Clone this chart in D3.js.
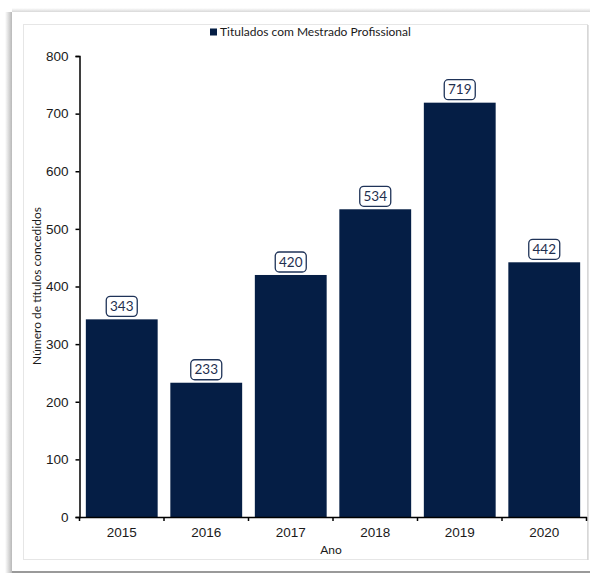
<!DOCTYPE html>
<html><head><meta charset="utf-8">
<script src="https://cdn.jsdelivr.net/npm/d3@7"></script>
<style>body{margin:0;background:#fff;}svg{display:block;font-family:Lato,sans-serif;}</style>
</head><body>
<script>
const categories = ["2015","2016","2017","2018","2019","2020"];
const values = [343,233,420,534,719,442];
const seriesName = "Titulados com Mestrado Profissional";
const yTicks = [0,100,200,300,400,500,600,700,800];
const yTitle = "Número de títulos concedidos";
const xTitle = "Ano";

const W=590,H=574;
const svg=d3.select("body").append("svg").attr("width",W).attr("height",H);
const defs=svg.append("defs");
const lg=defs.append("linearGradient").attr("id","shL").attr("x1",0).attr("x2",1);
lg.append("stop").attr("offset",0).attr("stop-color","#fff");
lg.append("stop").attr("offset",1).attr("stop-color","#b8b8b8");
const tg=defs.append("linearGradient").attr("id","shT").attr("x1",0).attr("x2",0).attr("y1",0).attr("y2",1);
tg.append("stop").attr("offset",0).attr("stop-color","#fff");
tg.append("stop").attr("offset",1).attr("stop-color","#d8d8d8");
// card shadow
svg.append("rect").attr("x",5).attr("y",12).attr("width",7).attr("height",561).attr("fill","url(#shL)");
svg.append("rect").attr("x",12).attr("y",8).attr("width",578).attr("height",4).attr("fill","url(#shT)");
svg.append("rect").attr("x",12).attr("y",12).attr("width",578).attr("height",560).attr("fill","#fff");
svg.append("line").attr("x1",12).attr("x2",590).attr("y1",572).attr("y2",572).attr("stroke","#9a9a9a").attr("stroke-width",2);
// inner border
svg.append("rect").attr("x",23.5).attr("y",24.5).attr("width",564).attr("height",535).attr("fill","none").attr("stroke","#e6e6e6");
svg.append("line").attr("x1",588).attr("x2",588).attr("y1",25).attr("y2",560).attr("stroke","#c8c8c8");

const m={l:79.5,r:586.5,t:56,b:517};
const x=d3.scaleBand().domain(categories).range([m.l,m.r]).paddingInner(0.15).paddingOuter(0.075);
const y=d3.scaleLinear().domain([0,800]).range([m.b,m.t]);
const navy="#051e45";

svg.append("g").selectAll("rect").data(values).join("rect")
 .attr("x",(d,i)=>x(categories[i])).attr("width",x.bandwidth())
 .attr("y",d=>y(d)).attr("height",d=>y(0)-y(d)).attr("fill",navy);

const ya=svg.append("g").attr("transform",`translate(${m.l},0)`)
 .call(d3.axisLeft(y).tickValues(yTicks).tickSize(4).tickPadding(7));
ya.select(".domain").attr("stroke","#000").attr("stroke-width",1.5);
ya.selectAll(".tick line").attr("stroke","#000").attr("stroke-width",1.5);
ya.selectAll("text").attr("font-size",13.5).attr("fill","#1a1a1a");

const xa=svg.append("g").attr("transform",`translate(0,${m.b})`)
 .call(d3.axisBottom(x).tickSize(0).tickPadding(10));
xa.select(".domain").attr("stroke","#000").attr("stroke-width",1.5);
xa.selectAll("text").attr("font-size",13.5).attr("fill","#1a1a1a");
// boundary ticks
const step=x.step();
const bounds=d3.range(categories.length+1).map(i=>m.l+i*step);
svg.append("g").selectAll("line").data(bounds).join("line")
 .attr("x1",d=>d).attr("x2",d=>d).attr("y1",m.b).attr("y2",m.b+4).attr("stroke","#000").attr("stroke-width",1.5);

// labels
const lab=svg.append("g").selectAll("g").data(values).join("g")
 .attr("transform",(d,i)=>`translate(${x(categories[i])+x.bandwidth()/2},${y(d)-13})`);
lab.append("rect").attr("x",-15.5).attr("y",-10).attr("width",31).attr("height",20).attr("rx",4)
 .attr("fill","#fff").attr("stroke","#1f3358").attr("stroke-width",1.3);
lab.append("text").text(d=>d).attr("text-anchor","middle").attr("dy","0.35em").attr("font-size",13.5).attr("fill","#1f2f4f");

// titles
svg.append("text").attr("transform","translate(41,286) rotate(-90)").attr("text-anchor","middle")
 .attr("font-size",12).attr("fill","#1a1a1a").text(yTitle);
svg.append("text").attr("x",331).attr("y",554).attr("text-anchor","middle").attr("font-size",12).attr("fill","#1a1a1a").text(xTitle);

// legend
svg.append("rect").attr("x",210).attr("y",28.5).attr("width",7).attr("height",7).attr("fill",navy);
svg.append("text").attr("x",220).attr("y",32).attr("dy","0.35em").attr("font-size",12).attr("fill","#1a1a1a").text(seriesName);
</script>
</body></html>
